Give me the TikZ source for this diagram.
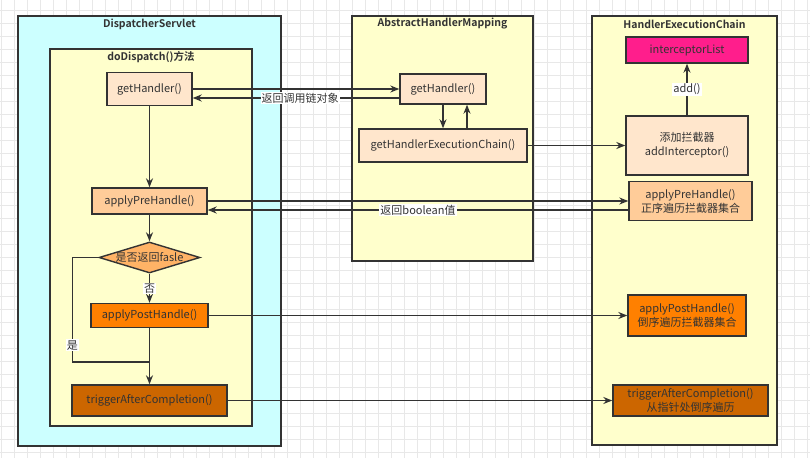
\documentclass[tikz,border=0pt]{standalone}
\usepackage{fontspec}
\setmainfont{Noto Sans CJK SC}[BoldFont={Noto Sans CJK SC Bold}]
\usepackage{xcolor}
\definecolor{dscyan}{RGB}{204,255,255}
\definecolor{dsyellow}{RGB}{255,255,204}
\definecolor{dspeach}{RGB}{255,230,204}
\definecolor{dslight}{RGB}{255,204,153}
\definecolor{dsdiamond}{RGB}{255,179,102}
\definecolor{dsorange}{RGB}{255,128,0}
\definecolor{dsdark}{RGB}{204,102,0}
\definecolor{dspink}{RGB}{255,30,140}
\definecolor{dsline}{RGB}{51,51,51}
\definecolor{dsgrid}{RGB}{232,232,232}
\usetikzlibrary{arrows.meta,positioning,shapes.geometric}

\begin{document}
\begin{tikzpicture}[x=1pt, y=-1pt,
    container/.style={rectangle, draw=dsline, line width=1.5pt, inner sep=0pt},
    boxtitle/.style={font=\fontsize{10.5}{12}\selectfont\bfseries, text=dsline},
    procstep/.style={rectangle, draw=dsline, line width=1.4pt, inner sep=0pt, align=center,
      font=\fontsize{11}{14}\selectfont, text=dsline},
    decision/.style={diamond, aspect=3.3, draw=dsline, line width=1.4pt, inner sep=0pt,
      font=\fontsize{11}{14}\selectfont, text=dsline},
    flow/.style={-{Stealth[length=9pt,width=7pt]}, line width=1.3pt, draw=dsline},
    flowlabel/.style={fill=white, inner sep=1pt, font=\fontsize{11}{13}\selectfont, text=dsline}
  ]
    \useasboundingbox (0,0) rectangle (810,458);
    \fill[white] (0,0) rectangle (810,458);
    \foreach \gx in {1,14,...,807} \draw[dsgrid, line width=0.7pt] (\gx,0) -- (\gx,458);
    \foreach \gy in {10.5,23.5,...,457} \draw[dsgrid, line width=0.7pt] (0,\gy) -- (810,\gy);

    % containers
    \node[container, fill=dscyan, minimum width=263pt, minimum height=430pt]   (ds)  at (149.5,231) {};
    \node[container, fill=dsyellow, minimum width=202pt, minimum height=377pt] (dd)  at (151,237.5) {};
    \node[container, fill=dsyellow, minimum width=181pt, minimum height=245pt] (ahm) at (442.5,138.5) {};
    \node[container, fill=dsyellow, minimum width=185pt, minimum height=429pt] (hec) at (684.5,230.5) {};
    \node[boxtitle] (dsTitle)  at (149.5,24) {DispatcherServlet};
    \node[boxtitle] (ddTitle)  at (151,57)   {doDispatch()方法};
    \node[boxtitle] (ahmTitle) at (442.5,24) {AbstractHandlerMapping};
    \node[boxtitle] (hecTitle) at (684.5,24) {HandlerExecutionChain};

    % doDispatch
    \node[procstep, fill=dspeach,  minimum width=85pt,  minimum height=33pt] (gh1)   at (149.5,89)    {getHandler()};
    \node[procstep, fill=dslight,  minimum width=115pt, minimum height=26pt] (pre1)  at (149.5,201)   {applyPreHandle()};
    \node[decision, fill=dsdiamond, minimum width=101pt, minimum height=31pt] (dia)  at (149.5,257.5) {是否返回fasle};
    \node[procstep, fill=dsorange, minimum width=117pt, minimum height=24pt] (post1) at (149.5,315.5) {applyPostHandle()};
    \node[procstep, fill=dsdark,   minimum width=155pt, minimum height=31pt] (trig1) at (149.5,400.5) {triggerAfterCompletion()};
    \coordinate (yesjoin) at (149.5,362);

    % AbstractHandlerMapping
    \node[procstep, fill=dspeach, minimum width=86pt,  minimum height=30pt] (gh2)   at (443,89)    {getHandler()};
    \node[procstep, fill=dspeach, minimum width=168pt, minimum height=33pt] (chain) at (443,145.5) {getHandlerExecutionChain()};

    % HandlerExecutionChain
    \node[procstep, fill=dspink,   minimum width=122pt, minimum height=26pt] (ilist) at (687,50)    {interceptorList};
    \node[procstep, fill=dspeach,  minimum width=122pt, minimum height=59pt] (addi)  at (687,145.5) {添加拦截器\\addInterceptor()};
    \node[procstep, fill=dslight,  minimum width=123pt, minimum height=39pt] (pre2)  at (690.5,201) {applyPreHandle()\\正序遍历拦截器集合};
    \node[procstep, fill=dsorange, minimum width=118pt, minimum height=41pt] (post2) at (687,315.5) {applyPostHandle()\\倒序遍历拦截器集合};
    \node[procstep, fill=dsdark,   minimum width=155pt, minimum height=31pt] (trig2) at (690.5,400.5) {triggerAfterCompletion()\\从指针处倒序遍历};

    % connectors
    \draw[flow] (gh1.east) -- (gh2.west);
    \draw[flow] ([yshift=-9pt]gh2.west) -- node[flowlabel, pos=0.48] {返回调用链对象} ([yshift=-9pt]gh1.east);
    \draw[flow] (gh2.south) -- (chain.north);
    \draw[flow] ([xshift=24pt]chain.north) -- ([xshift=24pt]gh2.south);
    \draw[flow] (chain.east) -- (addi.west);
    \draw[flow] (addi.north) -- node[flowlabel] {add()} (ilist.south);
    \draw[flow] (gh1.south) -- (pre1.north);
    \draw[flow] (pre1.east) -- (pre2.west);
    \draw[flow] ([yshift=-9pt]pre2.west) -- node[flowlabel] {返回boolean值} ([yshift=-9pt]pre1.east);
    \draw[flow] (pre1.south) -- (dia.north);
    \draw[flow] (dia.south) -- node[flowlabel] {否} (post1.north);
    \draw[line width=1.3pt, dsline] (dia.west) -- ++(-26,0) |- node[flowlabel, pos=0.42] {是} (yesjoin);
    \draw[flow] (post1.south) -- (trig1.north);
    \draw[flow] (post1.east) -- (post2.west);
    \draw[flow] (trig1.east) -- (trig2.west);
  \end{tikzpicture}
\end{document}
